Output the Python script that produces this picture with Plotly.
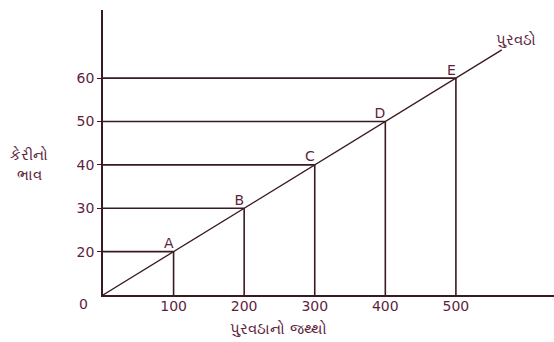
import plotly.graph_objects as go

# supply schedule (schematic): quantity of mangoes supplied vs price
quantity = [100, 200, 300, 400, 500]
price = [20, 30, 40, 50, 60]
point_names = ["A", "B", "C", "D", "E"]

x_ticks = ["0", "100", "200", "300", "400", "500"]
y_ticks = ["0", "20", "30", "40", "50", "60"]

x_title = "પુરવઠાનો જથ્થો"
y_title = "કેરીનો<br>ભાવ"
curve_label = "પુરવઠો"

LINE = "#3a1a22"
TEXT = "#5e1f3e"
FONT = "DejaVu Sans"

# the drawing is schematic: every step on both axes is drawn the same length
xs = [x_ticks.index(str(q)) for q in quantity]
ys = [y_ticks.index(str(p)) for p in price]

fig = go.Figure()

# guide lines: horizontal from price axis, vertical down to quantity axis
hx, hy, vx, vy = [], [], [], []
for x, y in zip(xs, ys):
    hx += [0, x, None]
    hy += [y, y, None]
    vx += [x, x, None]
    vy += [y, 0, None]
fig.add_trace(go.Scatter(x=hx, y=hy, mode="lines", line=dict(color=LINE, width=1.6),
                         hoverinfo="skip", showlegend=False))
fig.add_trace(go.Scatter(x=vx, y=vy, mode="lines", line=dict(color=LINE, width=1.6),
                         hoverinfo="skip", showlegend=False))

# supply line from the origin through the points, a little beyond E
ext = 0.65
fig.add_trace(go.Scatter(x=[0] + xs + [xs[-1] + ext], y=[0] + ys + [ys[-1] + ext],
                         mode="lines", line=dict(color=LINE, width=1.3),
                         hoverinfo="skip", showlegend=False))

# point letters
fig.add_trace(go.Scatter(x=xs, y=ys, mode="text", text=point_names,
                         textposition="top left",
                         textfont=dict(family=FONT, size=14, color=TEXT),
                         showlegend=False))

fig.add_annotation(x=xs[-1] + ext, y=ys[-1] + ext, text=curve_label, showarrow=False,
                   xanchor="left", yanchor="bottom", xshift=-8, yshift=-1,
                   font=dict(family=FONT, size=15, color=TEXT))
fig.add_annotation(x=0, y=0, text=x_ticks[0], showarrow=False, xanchor="center",
                   yanchor="middle", xshift=-20, yshift=-9,
                   font=dict(family=FONT, size=14, color=TEXT))
fig.add_annotation(xref="paper", yref="paper", x=0.39, y=-0.12, text=x_title,
                   showarrow=False, yanchor="middle",
                   font=dict(family=FONT, size=15, color=TEXT))
fig.add_annotation(xref="paper", yref="paper", x=-0.163, y=0.455, text=y_title,
                   showarrow=False, xanchor="center", yanchor="middle",
                   font=dict(family=FONT, size=15, color=TEXT))

fig.update_xaxes(range=[0, 6.39], tickvals=list(range(1, 6)), ticktext=x_ticks[1:],
                 showgrid=False, zeroline=False, showline=True, linecolor=LINE, linewidth=1.6,
                 ticks="", ticklabelstandoff=-3, tickfont=dict(family=FONT, size=14, color=TEXT))
fig.update_yaxes(range=[0, 6.57], tickvals=list(range(1, 6)), ticktext=y_ticks[1:],
                 showgrid=False, zeroline=False, showline=True, linecolor=LINE, linewidth=1.6,
                 ticks="outside", ticklen=4, tickcolor=LINE,
                 tickfont=dict(family=FONT, size=14, color=TEXT))

fig.update_layout(width=554, height=342,
                  margin=dict(l=103, r=0, t=10, b=47, autoexpand=False),
                  plot_bgcolor="white", paper_bgcolor="white")

# drop the browser's default page margin so the figure sits at the window corner
fig.write_html("out.html", config={"displayModeBar": False},
               post_script="document.body.style.margin='0';")
